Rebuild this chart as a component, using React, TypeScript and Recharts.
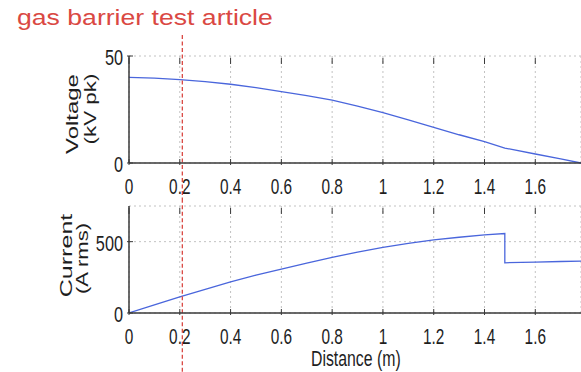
import React from "react";
import { CartesianGrid, Line, LineChart, ReferenceLine, XAxis, YAxis } from "recharts";

// values
const voltageDistance = [0, 0.1, 0.2, 0.3, 0.4, 0.5, 0.6, 0.7, 0.8, 0.9, 1.0, 1.1, 1.2, 1.3, 1.4, 1.48, 1.6, 1.7, 1.78];
const voltageKv = [40, 39.7, 39.0, 38.0, 36.8, 35.2, 33.4, 31.5, 29.4, 26.6, 23.5, 20.1, 16.7, 13.2, 10.0, 7.0, 4.2, 1.9, 0];

// the current steps down at the gas barrier end, so 1.48 shows up twice
const currentDistance = [0, 0.1, 0.2, 0.3, 0.4, 0.5, 0.6, 0.7, 0.8, 0.9, 1.0, 1.1, 1.2, 1.3, 1.4, 1.48, 1.48, 1.6, 1.7, 1.78];
const currentArms = [0, 57, 113, 166, 218, 265, 308, 350, 390, 427, 460, 488, 512, 531, 547, 557, 352, 357, 361, 364];

const distanceTicks = [0, 0.2, 0.4, 0.6, 0.8, 1, 1.2, 1.4, 1.6];
const voltageTicks = [0, 50];
const currentTicks = [0, 500];
const barrierAt = 0.21;

const FONT = "'Liberation Sans', Arial, Helvetica, sans-serif";
const FRAME = "#3a3a3a";
const BLUE = "#4a66dc";
const RED = "#da4843";
const GRID = "#c2c2c2";
const TEXT = "#1e1e1e";

const voltageRows = voltageDistance.map((d, i) => ({ distance: d, kv: voltageKv[i] }));
const currentRows = currentDistance.map((d, i) => ({ distance: d, amps: currentArms[i] }));

// matlab-ish ticks: marks point inward, labels narrow
function XTick(props: any) {
  const { x, y, payload, plotH } = props;
  return (
    <g>
      <line x1={x} x2={x} y1={y} y2={y - 6} stroke={FRAME} />
      <line x1={x} x2={x} y1={y - plotH} y2={y - plotH + 6} stroke={FRAME} />
      <text
        transform={`translate(${x},${y + 29}) scale(0.7,1)`}
        textAnchor="middle"
        fontFamily={FONT}
        fontSize={22}
        fill={TEXT}
      >
        {payload.value}
      </text>
    </g>
  );
}

function YTick(props: any) {
  const { x, y, payload } = props;
  return (
    <g>
      <line x1={x} x2={x + 6} y1={y} y2={y} stroke={FRAME} />
      <text
        transform={`translate(${x - 4},${y + 9}) scale(0.74,1)`}
        textAnchor="end"
        fontFamily={FONT}
        fontSize={22}
        fill={TEXT}
      >
        {payload.value}
      </text>
    </g>
  );
}

type TitleLine = { text: string; baseX: number; shift: number; stretch: number };

function yTitle(lines: TitleLine[]) {
  return (props: any) => {
    const vb = props.viewBox;
    const cy = vb.y + vb.height / 2;
    return (
      <g>
        {lines.map((l) => (
          <text
            key={l.text}
            transform={`translate(${l.baseX},${cy + l.shift}) rotate(-90) scale(${l.stretch},1)`}
            textAnchor="middle"
            fontFamily={FONT}
            fontSize={16.5}
            fill={TEXT}
          >
            {l.text}
          </text>
        ))}
      </g>
    );
  };
}

const distanceTitle = (props: any) => {
  const vb = props.viewBox;
  return (
    <text
      transform={`translate(${vb.x + 182},${vb.y + 53}) scale(0.72,1)`}
      fontFamily={FONT}
      fontSize={22}
      fill={TEXT}
    >
      Distance (m)
    </text>
  );
};

export default function App() {
  return (
    <div
      style={{
        position: "absolute",
        left: 0,
        top: 0,
        width: 581,
        height: 372,
        overflow: "hidden",
        background: "#fff",
      }}
    >
      <svg width={581} height={34} style={{ position: "absolute", left: 0, top: 0 }}>
        <text transform="translate(17,25) scale(1.21,1)" fontFamily={FONT} fontSize={22} fill={RED}>
          gas barrier test article
        </text>
      </svg>

      <div style={{ position: "absolute", left: 0, top: 30 }}>
        <LineChart width={581} height={170} data={voltageRows} margin={{ top: 26, right: 0, bottom: 0, left: 0 }}>
          <CartesianGrid stroke={GRID} strokeDasharray="2 3" />
          <XAxis
            dataKey="distance"
            type="number"
            domain={[0, 1.78]}
            ticks={distanceTicks}
            interval={0}
            allowDataOverflow
            height={37}
            tickSize={0}
            tickLine={false}
            axisLine={{ stroke: FRAME, strokeWidth: 1.5 }}
            tick={<XTick plotH={107} />}
          />
          <XAxis
            xAxisId="top"
            orientation="top"
            dataKey="distance"
            type="number"
            domain={[0, 1.78]}
            height={0}
            tick={false}
            tickLine={false}
            axisLine={{ stroke: FRAME, strokeWidth: 1.5 }}
          />
          <YAxis
            type="number"
            domain={[0, 50]}
            ticks={voltageTicks}
            interval={0}
            width={129}
            tickSize={0}
            tickLine={false}
            axisLine={{ stroke: FRAME, strokeWidth: 1.5 }}
            tick={<YTick />}
            label={{
              content: yTitle([
                { text: "Voltage", baseX: 78, shift: 4.5, stretch: 1.45 },
                { text: "(kV pk)", baseX: 96, shift: -0.5, stretch: 1.36 },
              ]),
            }}
          />
          <Line
            dataKey="kv"
            stroke={BLUE}
            strokeWidth={1.3}
            dot={false}
            type="linear"
            isAnimationActive={false}
          />
          <ReferenceLine
            segment={[
              { x: barrierAt, y: 59.8 },
              { x: barrierAt, y: -17.5 },
            ]}
            ifOverflow="visible"
            stroke={RED}
            strokeWidth={1.3}
            strokeDasharray="4 2.5"
          />
        </LineChart>
      </div>

      <div style={{ position: "absolute", left: 0, top: 200 }}>
        <LineChart width={581} height={172} data={currentRows} margin={{ top: 6, right: 0, bottom: 0, left: 0 }}>
          <CartesianGrid stroke={GRID} strokeDasharray="2 3" />
          <XAxis
            dataKey="distance"
            type="number"
            domain={[0, 1.78]}
            ticks={distanceTicks}
            interval={0}
            allowDataOverflow
            height={59}
            tickSize={0}
            tickLine={false}
            axisLine={{ stroke: FRAME, strokeWidth: 1.5 }}
            tick={<XTick plotH={107} />}
            label={{ content: distanceTitle }}
          />
          <XAxis
            xAxisId="top"
            orientation="top"
            dataKey="distance"
            type="number"
            domain={[0, 1.78]}
            height={0}
            tick={false}
            tickLine={false}
            axisLine={{ stroke: FRAME, strokeWidth: 1.5 }}
          />
          <YAxis
            type="number"
            domain={[0, 750]}
            ticks={currentTicks}
            interval={0}
            width={129}
            tickSize={0}
            tickLine={false}
            axisLine={{ stroke: FRAME, strokeWidth: 1.5 }}
            tick={<YTick />}
            label={{
              content: yTitle([
                { text: "Current", baseX: 72, shift: -4, stretch: 1.52 },
                { text: "(A rms)", baseX: 88, shift: -1, stretch: 1.34 },
              ]),
            }}
          />
          <Line
            dataKey="amps"
            stroke={BLUE}
            strokeWidth={1.3}
            dot={false}
            type="linear"
            isAnimationActive={false}
          />
          <ReferenceLine
            segment={[
              { x: barrierAt, y: 800 },
              { x: barrierAt, y: -420 },
            ]}
            ifOverflow="visible"
            stroke={RED}
            strokeWidth={1.3}
            strokeDasharray="4 2.5"
          />
        </LineChart>
      </div>
    </div>
  );
}
